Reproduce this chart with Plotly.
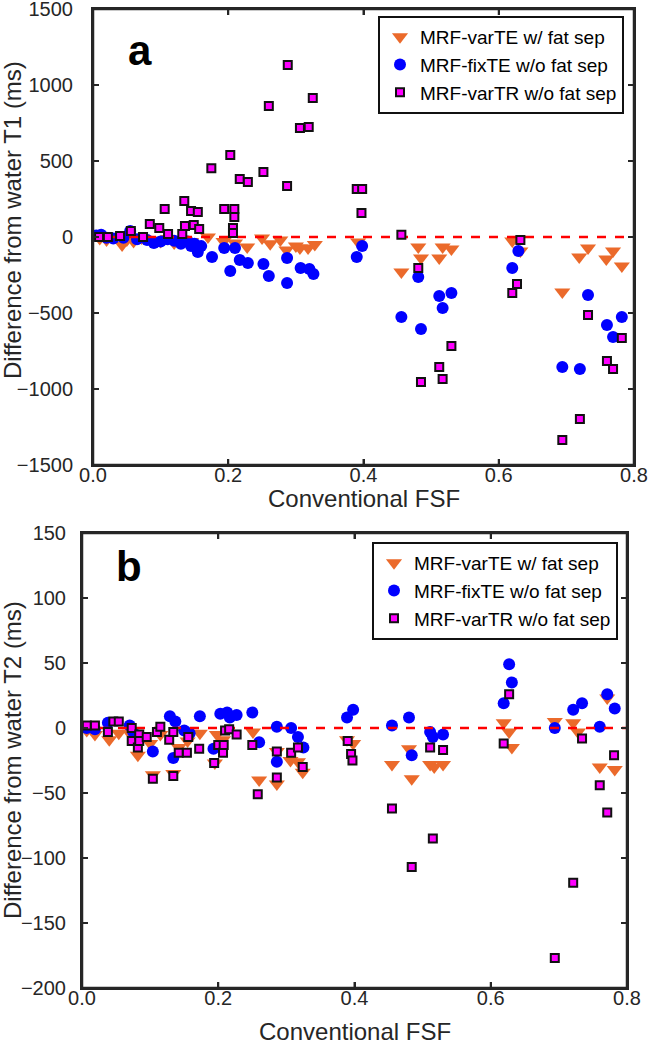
import plotly.graph_objects as go

# ---------------- Data: panel a (T1) ----------------
t1_varTE_x = [0.01, 0.02, 0.043, 0.05, 0.06, 0.072, 0.085, 0.10, 0.111, 0.12, 0.135, 0.145, 0.17, 0.193,
              0.21, 0.228, 0.25, 0.262, 0.277, 0.286, 0.30, 0.306, 0.318, 0.328, 0.392, 0.456, 0.481, 0.485,
              0.512, 0.517, 0.530, 0.620, 0.632, 0.694, 0.719, 0.732, 0.759, 0.769, 0.782]
t1_varTE_y = [-10, -20, -53, -20, -30, -7, -20, -30, -10, -40, -20, -30, 0, -30,
              -40, -66, -7, -45, -20, -85, -60, -72, -72, -50, -33, -230, -66, -138,
              -138, -66, -79, -26, -92, -362, -132, -72, -145, -92, -191]

t1_fixTE_x = [0.005, 0.012, 0.02, 0.03, 0.045, 0.055, 0.065, 0.08, 0.09, 0.10, 0.11, 0.12, 0.13, 0.14,
              0.145, 0.15, 0.155, 0.16, 0.176, 0.194, 0.203, 0.21, 0.217, 0.229, 0.252, 0.26, 0.287,
              0.287, 0.307, 0.32, 0.326, 0.39, 0.398, 0.456, 0.481, 0.485, 0.512, 0.517, 0.53, 0.62,
              0.629, 0.694, 0.72, 0.732, 0.76, 0.769, 0.782]
t1_fixTE_y = [10, 15, -5, -10, -5, 39, -15, -20, -40, -30, -15, -25, -45, -30,
              -60, -45, -99, -60, -132, -72, -224, -72, -151, -171, -178, -257, -138,
              -303, -204, -210, -243, -132, -59, -526, -263, -605, -388, -467, -368, -204,
              -92, -855, -868, -382, -579, -658, -526]

t1_varTR_x = [0.009, 0.022, 0.04, 0.056, 0.074, 0.084, 0.098, 0.106, 0.111, 0.132, 0.135, 0.136, 0.145,
              0.149, 0.155, 0.157, 0.175, 0.194, 0.203, 0.207, 0.207, 0.209, 0.209, 0.217, 0.229, 0.252,
              0.26, 0.287, 0.288, 0.306, 0.319, 0.325, 0.39, 0.398, 0.397, 0.456, 0.481, 0.485, 0.512,
              0.517, 0.53, 0.62, 0.627, 0.632, 0.694, 0.72, 0.732, 0.76, 0.769, 0.782]
t1_varTR_y = [0, 0, 7, 39, 0, 85, 59, 184, 20, 20, 237, 72, 171,
              79, 165, 52, 453, 184, 539, 59, 26, 184, 131, 381, 362, 427,
              862, 336, 1131, 717, 724, 915, 316, 316, 158, 15, -204, -954, -855,
              -934, -717, -368, -309, -20, -1336, -1197, -513, -816, -868, -664]

# ---------------- Data: panel b (T2) ----------------
t2_varTE_x = [0.007, 0.019, 0.04, 0.054, 0.07, 0.082, 0.10, 0.104, 0.115, 0.134, 0.142, 0.155, 0.173,
              0.195, 0.198, 0.207, 0.251, 0.26, 0.286, 0.286, 0.306, 0.317, 0.324, 0.389, 0.398, 0.455,
              0.48, 0.484, 0.511, 0.517, 0.53, 0.619, 0.627, 0.631, 0.694, 0.721, 0.728, 0.76, 0.771, 0.782]
t2_varTE_y = [-2, -5, -9, -4, -4, -21, -12, -36, -5, -35, -15, -10, -4,
              -27, -5, -9, -3, -40, -18, -43, -25, -26, -34, -9, -12, -28,
              -16, -39, -28, -30, -28, 4, -3, -15, 5, 4, -3, -30, 23, -32]

t2_fixTE_x = [0.007, 0.019, 0.038, 0.07, 0.075, 0.104, 0.129, 0.134, 0.137, 0.15, 0.158, 0.173, 0.193,
              0.203, 0.213, 0.217, 0.227, 0.25, 0.26, 0.286, 0.286, 0.307, 0.317, 0.325, 0.389, 0.398,
              0.455, 0.48, 0.484, 0.511, 0.515, 0.53, 0.619, 0.627, 0.631, 0.694, 0.721, 0.734, 0.76,
              0.771, 0.782]
t2_fixTE_y = [0, -1, 4, 2, -3, -18, 9, -23, 5, -2, -4, 9, -16,
              11, 12, 8, 10, 12, -11, 1, -26, 0, -7, -15, 8, 14,
              2, 8, -21, -3, -7, -5, 19, 49, 35, 0, 14, 19, 1,
              26, 15]

t2_varTR_x = [0.007, 0.019, 0.038, 0.046, 0.054, 0.073, 0.073, 0.082, 0.084, 0.084, 0.095, 0.104, 0.11,
              0.115, 0.128, 0.134, 0.134, 0.142, 0.154, 0.156, 0.172, 0.194, 0.2, 0.207, 0.208, 0.21,
              0.216, 0.227, 0.25, 0.258, 0.286, 0.286, 0.307, 0.317, 0.324, 0.39, 0.395, 0.397, 0.455,
              0.484, 0.511, 0.515, 0.53, 0.619, 0.627, 0.694, 0.721, 0.734, 0.76, 0.771, 0.781]
t2_varTR_y = [2, 2, -3, 5, 5, 0, -10, -15, -5, -10, -7, -39, -3,
              1, -9, -3, -37, -19, -19, -7, -16, -27, -13, -19, -13, -2,
              -1, -5, -13, -51, -18, -38, -19, -15, -30, -10, -20, -25, -62,
              -107, -15, -85, -17, -12, 26, -177, -119, -8, -44, -65, -21]

series_names = ["MRF-varTE w/ fat sep", "MRF-fixTE w/o fat sep", "MRF-varTR w/o fat sep"]
x_ticks = [0, 0.2, 0.4, 0.6, 0.8]
t1_ticks = [-1500, -1000, -500, 0, 500, 1000, 1500]
t2_ticks = [-200, -150, -100, -50, 0, 50, 100, 150]
x_range = [0, 0.8]

ORANGE = "#EB6A2B"
BLUE = "#0000FF"
MAGENTA = "#FF00FF"
AX = "#262626"
FONT = "Liberation Sans, Arial, sans-serif"

W, H = 649, 1050
# pixel boxes of the two axes
top_box = dict(l=93, r=634, t=9, b=465)
bot_box = dict(l=82, r=627, t=533, b=988)


def dom_x(b):
    return [b["l"] / W, b["r"] / W]


def dom_y(b):
    return [1 - b["b"] / H, 1 - b["t"] / H]


fig = go.Figure()


def add_panel(xa, ya, leg, data):
    (ex, ey), (fx, fy), (rx, ry) = data
    fig.add_trace(go.Scatter(x=ex, y=ey, mode="markers", name=series_names[0], xaxis=xa, yaxis=ya,
                             legend=leg,
                             marker=dict(symbol="triangle-down", size=14, color=ORANGE,
                                         line=dict(width=0))))
    fig.add_trace(go.Scatter(x=fx, y=fy, mode="markers", name=series_names[1], xaxis=xa, yaxis=ya,
                             legend=leg,
                             marker=dict(symbol="circle", size=12, color=BLUE, line=dict(width=0))))
    fig.add_trace(go.Scatter(x=x_range, y=[0, 0], mode="lines", xaxis=xa, yaxis=ya, showlegend=False,
                             line=dict(color="#FF0000", width=2.5, dash="dash"), hoverinfo="skip"))
    fig.add_trace(go.Scatter(x=rx, y=ry, mode="markers", name=series_names[2], xaxis=xa, yaxis=ya,
                             legend=leg,
                             marker=dict(symbol="square", size=8, color=MAGENTA,
                                         line=dict(width=2, color="#111111"))))


add_panel("x", "y", "legend", [(t1_varTE_x, t1_varTE_y), (t1_fixTE_x, t1_fixTE_y), (t1_varTR_x, t1_varTR_y)])
add_panel("x2", "y2", "legend2", [(t2_varTE_x, t2_varTE_y), (t2_fixTE_x, t2_fixTE_y), (t2_varTR_x, t2_varTR_y)])

axis_common = dict(showline=True, linewidth=2, linecolor=AX, mirror="ticks", ticks="inside",
                   ticklen=6, tickwidth=2, tickcolor=AX, showgrid=False, zeroline=False,
                   automargin=False, layer="above traces", ticklabeloverflow="allow",
                   tickfont=dict(family=FONT, size=20, color="#262626"))

fig.update_layout(
    width=W, height=H, margin=dict(l=0, r=0, t=0, b=0, pad=0, autoexpand=False),
    paper_bgcolor="white", plot_bgcolor="white",
    xaxis=dict(domain=dom_x(top_box), range=x_range, tickvals=x_ticks, tickformat=".1f",
               anchor="y", ticklabelstandoff=-9, **axis_common),
    yaxis=dict(domain=dom_y(top_box), range=[-1500, 1500], tickvals=t1_ticks, anchor="x",
               ticklabelstandoff=14, **axis_common),
    xaxis2=dict(domain=dom_x(bot_box), range=x_range, tickvals=x_ticks, tickformat=".1f",
                anchor="y2", ticklabelstandoff=-9, **axis_common),
    yaxis2=dict(domain=dom_y(bot_box), range=[-200, 150], tickvals=t2_ticks, anchor="x2",
                ticklabelstandoff=10, **axis_common),
    legend=dict(x=378 / W, y=1 - 16 / H, xanchor="left", yanchor="top", bgcolor="white",
                bordercolor="#111111", borderwidth=2, font=dict(family=FONT, size=19, color="black"),
                tracegroupgap=0, itemwidth=30),
    legend2=dict(x=372 / W, y=1 - 542 / H, xanchor="left", yanchor="top", bgcolor="white",
                 bordercolor="#111111", borderwidth=2, font=dict(family=FONT, size=19, color="black"),
                 tracegroupgap=0, itemwidth=30),
    showlegend=True,
)

# frame boxes around each axes (drawn in axis-domain coordinates)
panels = [("x", "y", t1_ticks), ("x2", "y2", t2_ticks)]
for xa, ya, yt in panels:
    fig.add_shape(type="rect", xref=f"{xa} domain", yref=f"{ya} domain", x0=0, x1=1, y0=0, y1=1,
                  line=dict(color=AX, width=2.5), fillcolor="rgba(0,0,0,0)", layer="above")
    tick_line = dict(color=AX, width=2)
    for xv in x_ticks:
        for anchor, d in ((0, 6), (1, -6)):
            fig.add_shape(type="line", xref=xa, yref=f"{ya} domain", ysizemode="pixel", yanchor=anchor,
                          x0=xv, x1=xv, y0=0, y1=d, line=tick_line, layer="above")
    for yv in yt:
        for anchor, d in ((0, 6), (1, -6)):
            fig.add_shape(type="line", yref=ya, xref=f"{xa} domain", xsizemode="pixel", xanchor=anchor,
                          y0=yv, y1=yv, x0=0, x1=d, line=tick_line, layer="above")

ann_font = dict(family=FONT, size=24, color="#262626")
annotations = [
    dict(text="Difference from water T1 (ms)", x=12 / W, y=1 - 220 / H, textangle=-90, font=ann_font),
    dict(text="Conventional FSF", x=(top_box["l"] + top_box["r"]) / 2 / W, y=1 - 498 / H, font=ann_font),
    dict(text="Difference from water T2 (ms)", x=12 / W, y=1 - 760 / H, textangle=-90, font=ann_font),
    dict(text="Conventional FSF", x=(bot_box["l"] + bot_box["r"]) / 2 / W, y=1 - 1031 / H, font=ann_font),
    dict(text="<b>a</b>", x=140 / W, y=1 - 50 / H, font=dict(family=FONT, size=42, color="black")),
    dict(text="<b>b</b>", x=129 / W, y=1 - 566 / H, font=dict(family=FONT, size=42, color="black")),
]
for a in annotations:
    fig.add_annotation(xref="paper", yref="paper", showarrow=False, xanchor="center", yanchor="middle", **a)

# remove the browser's default page margin so the figure sits at the window's top-left corner
fig.write_html("out.html", config={"displayModeBar": False},
               post_script="document.body.style.margin='0px';document.body.style.overflow='hidden';")
